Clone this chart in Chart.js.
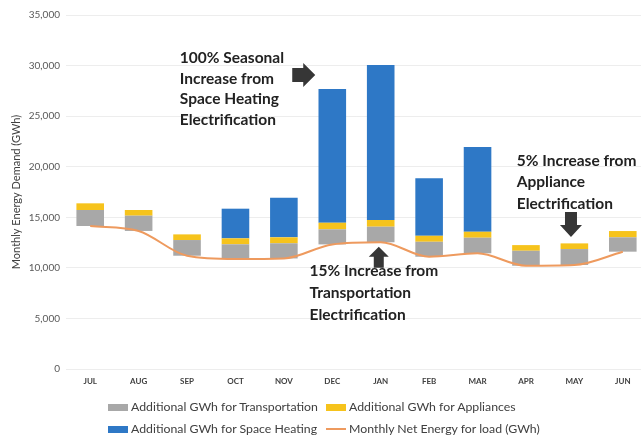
<!DOCTYPE html>
<html>
<head>
<meta charset="utf-8">
<script src="https://cdn.jsdelivr.net/npm/chart.js@4.4.1/dist/chart.umd.min.js"></script>
<style>
  html, body { margin: 0; padding: 0; background: #ffffff; overflow: hidden; }
  #wrap { position: relative; width: 641px; height: 441px; overflow: hidden; }
  canvas { display: block; }
  #legend { position: absolute; left: 108px; top: 398px; display: grid;
            grid-template-columns: 218px auto; row-gap: 4px;
            font-family: Lato, sans-serif; font-size: 12.3px; color: #404040; line-height: 18px; }
  .item { display: flex; align-items: center; white-space: nowrap; }
  .sw { width: 20px; height: 7px; margin-right: 3px; flex: none; }
  .sw.line { height: 2px; }
</style>
</head>
<body>
<div id="wrap"><canvas id="c" width="650" height="441"></canvas><div id="legend"></div></div>
<script>
// ---- data ----
const months = ['JUL','AUG','SEP','OCT','NOV','DEC','JAN','FEB','MAR','APR','MAY','JUN'];
const netLoad = [14140, 13650, 11200, 10880, 10930, 12320, 12530, 11100, 11440, 10210, 10280, 11600];
const transportation = [1580, 1510, 1550, 1450, 1500, 1490, 1540, 1480, 1540, 1480, 1580, 1420];
const appliances = [660, 560, 560, 590, 590, 650, 660, 590, 590, 560, 560, 620];
const spaceHeating = [0, 0, 0, 2930, 3920, 13220, 15320, 5680, 8380, 0, 0, 0];
const yTicks = [0, 5000, 10000, 15000, 20000, 25000, 30000, 35000];
const legendNames = ['Additional GWh for Transportation', 'Additional GWh for Appliances',
                     'Additional GWh for Space Heating', 'Monthly Net Energy for load (GWh)'];
const yTitle = 'Monthly Energy Demand (GWh)';

// annotation texts (positions are given in category index / axis value)
const notes = [
  { lines: ['100% Seasonal', 'Increase from', 'Space Heating', 'Electrification'], at: 1.85, v: 30750, step: 2030 },
  { lines: ['15% Increase from', 'Transportation', 'Electrification'], at: 4.53, v: 9690, step: 2200 },
  { lines: ['5% Increase from', 'Appliance', 'Electrification'], at: 8.81, v: 20570, step: 2120 }
];
const arrows = [
  { dir: 'right', at: 4.40, v: 29070 },
  { dir: 'up', at: 5.96, v: 11000 },
  { dir: 'down', at: 9.93, v: 14240 }
];

const COLORS = { gray: '#A8A8A8', yellow: '#F6C31C', blue: '#2E78C6', orange: '#EE9A5E' };

const annotationPlugin = {
  id: 'annots',
  afterDatasetsDraw(chart) {
    const ctx = chart.ctx, xs = chart.scales.x, ys = chart.scales.y;
    ctx.save();
    ctx.fillStyle = '#222222';
    ctx.font = 'bold 15.5px Lato';
    ctx.textAlign = 'left';
    ctx.textBaseline = 'middle';
    notes.forEach(n => {
      const x = xs.getPixelForValue(n.at);
      n.lines.forEach((t, i) => ctx.fillText(t, x, ys.getPixelForValue(n.v - i * n.step)));
    });
    ctx.fillStyle = '#363636';
    arrows.forEach(a => {
      const x = xs.getPixelForValue(a.at), y = ys.getPixelForValue(a.v);
      ctx.beginPath();
      if (a.dir === 'right') {
        ctx.moveTo(x - 11, y - 7); ctx.lineTo(x, y - 7); ctx.lineTo(x, y - 12);
        ctx.lineTo(x + 12, y); ctx.lineTo(x, y + 12); ctx.lineTo(x, y + 7); ctx.lineTo(x - 11, y + 7);
      } else if (a.dir === 'up') {
        ctx.moveTo(x - 5, y + 10); ctx.lineTo(x - 5, y - 1); ctx.lineTo(x - 10, y - 1);
        ctx.lineTo(x, y - 11); ctx.lineTo(x + 10, y - 1); ctx.lineTo(x + 5, y - 1); ctx.lineTo(x + 5, y + 10);
      } else {
        ctx.moveTo(x - 6, y - 13); ctx.lineTo(x - 6, y); ctx.lineTo(x - 11, y);
        ctx.lineTo(x, y + 12); ctx.lineTo(x + 11, y); ctx.lineTo(x + 6, y); ctx.lineTo(x + 6, y - 13);
      }
      ctx.closePath();
      ctx.fill();
    });
    ctx.restore();
  }
};

const barCommon = { type: 'bar', stack: 'bars', order: 1, borderWidth: 0, barPercentage: 0.57, categoryPercentage: 1.0 };

const chart = new Chart(document.getElementById('c'), {
  data: {
    labels: months,
    datasets: [
      Object.assign({}, barCommon, { label: 'base', data: netLoad, backgroundColor: 'rgba(0,0,0,0)' }),
      Object.assign({}, barCommon, { label: legendNames[0], data: transportation, backgroundColor: COLORS.gray }),
      Object.assign({}, barCommon, { label: legendNames[1], data: appliances, backgroundColor: COLORS.yellow }),
      Object.assign({}, barCommon, { label: legendNames[2], data: spaceHeating, backgroundColor: COLORS.blue }),
      { type: 'line', stack: 'line', order: 0, label: legendNames[3], data: netLoad,
        borderColor: COLORS.orange, backgroundColor: COLORS.orange, borderWidth: 2,
        pointRadius: 0, cubicInterpolationMode: 'monotone', fill: false }
    ]
  },
  options: {
    responsive: false,
    animation: false,
    devicePixelRatio: 1,
    layout: { padding: { top: 15, right: 3, left: 0, bottom: 52 } },
    plugins: {
      tooltip: { enabled: false },
      legend: { display: false }
    },
    scales: {
      x: {
        stacked: true,
        grid: { display: false, drawTicks: false },
        border: { display: false },
        ticks: { font: { family: 'Lato', size: 8, weight: 'bold' }, color: '#404040', padding: 8, maxRotation: 0 },
        afterFit(s) { s.height = 20; }
      },
      y: {
        stacked: true,
        min: 0, max: 35000,
        afterBuildTicks(s) { s.ticks = yTicks.map(v => ({ value: v })); },
        grid: { color: 'rgba(0,0,0,0.07)', drawTicks: false },
        border: { display: false },
        ticks: { font: { family: 'Lato', size: 10 }, color: '#595959', padding: 6,
                 callback: v => v.toLocaleString('en-US') },
        title: { display: true, text: yTitle, font: { family: 'Lato', size: 11 }, color: '#404040', padding: { top: 10, bottom: 0 } },
        afterFit(s) { s.width = 66; }
      }
    }
  },
  plugins: [annotationPlugin]
});

// legend built from the chart's own datasets (two columns, as in the reference)
const legendEl = document.getElementById('legend');
[1, 2, 3, 4].forEach(i => {
  const ds = chart.data.datasets[i];
  const item = document.createElement('div');
  item.className = 'item';
  const sw = document.createElement('span');
  sw.className = 'sw' + (ds.type === 'line' ? ' line' : '');
  sw.style.background = ds.type === 'line' ? ds.borderColor : ds.backgroundColor;
  const tx = document.createElement('span');
  tx.textContent = ds.label;
  item.appendChild(sw); item.appendChild(tx);
  legendEl.appendChild(item);
});
</script>
</body>
</html>
